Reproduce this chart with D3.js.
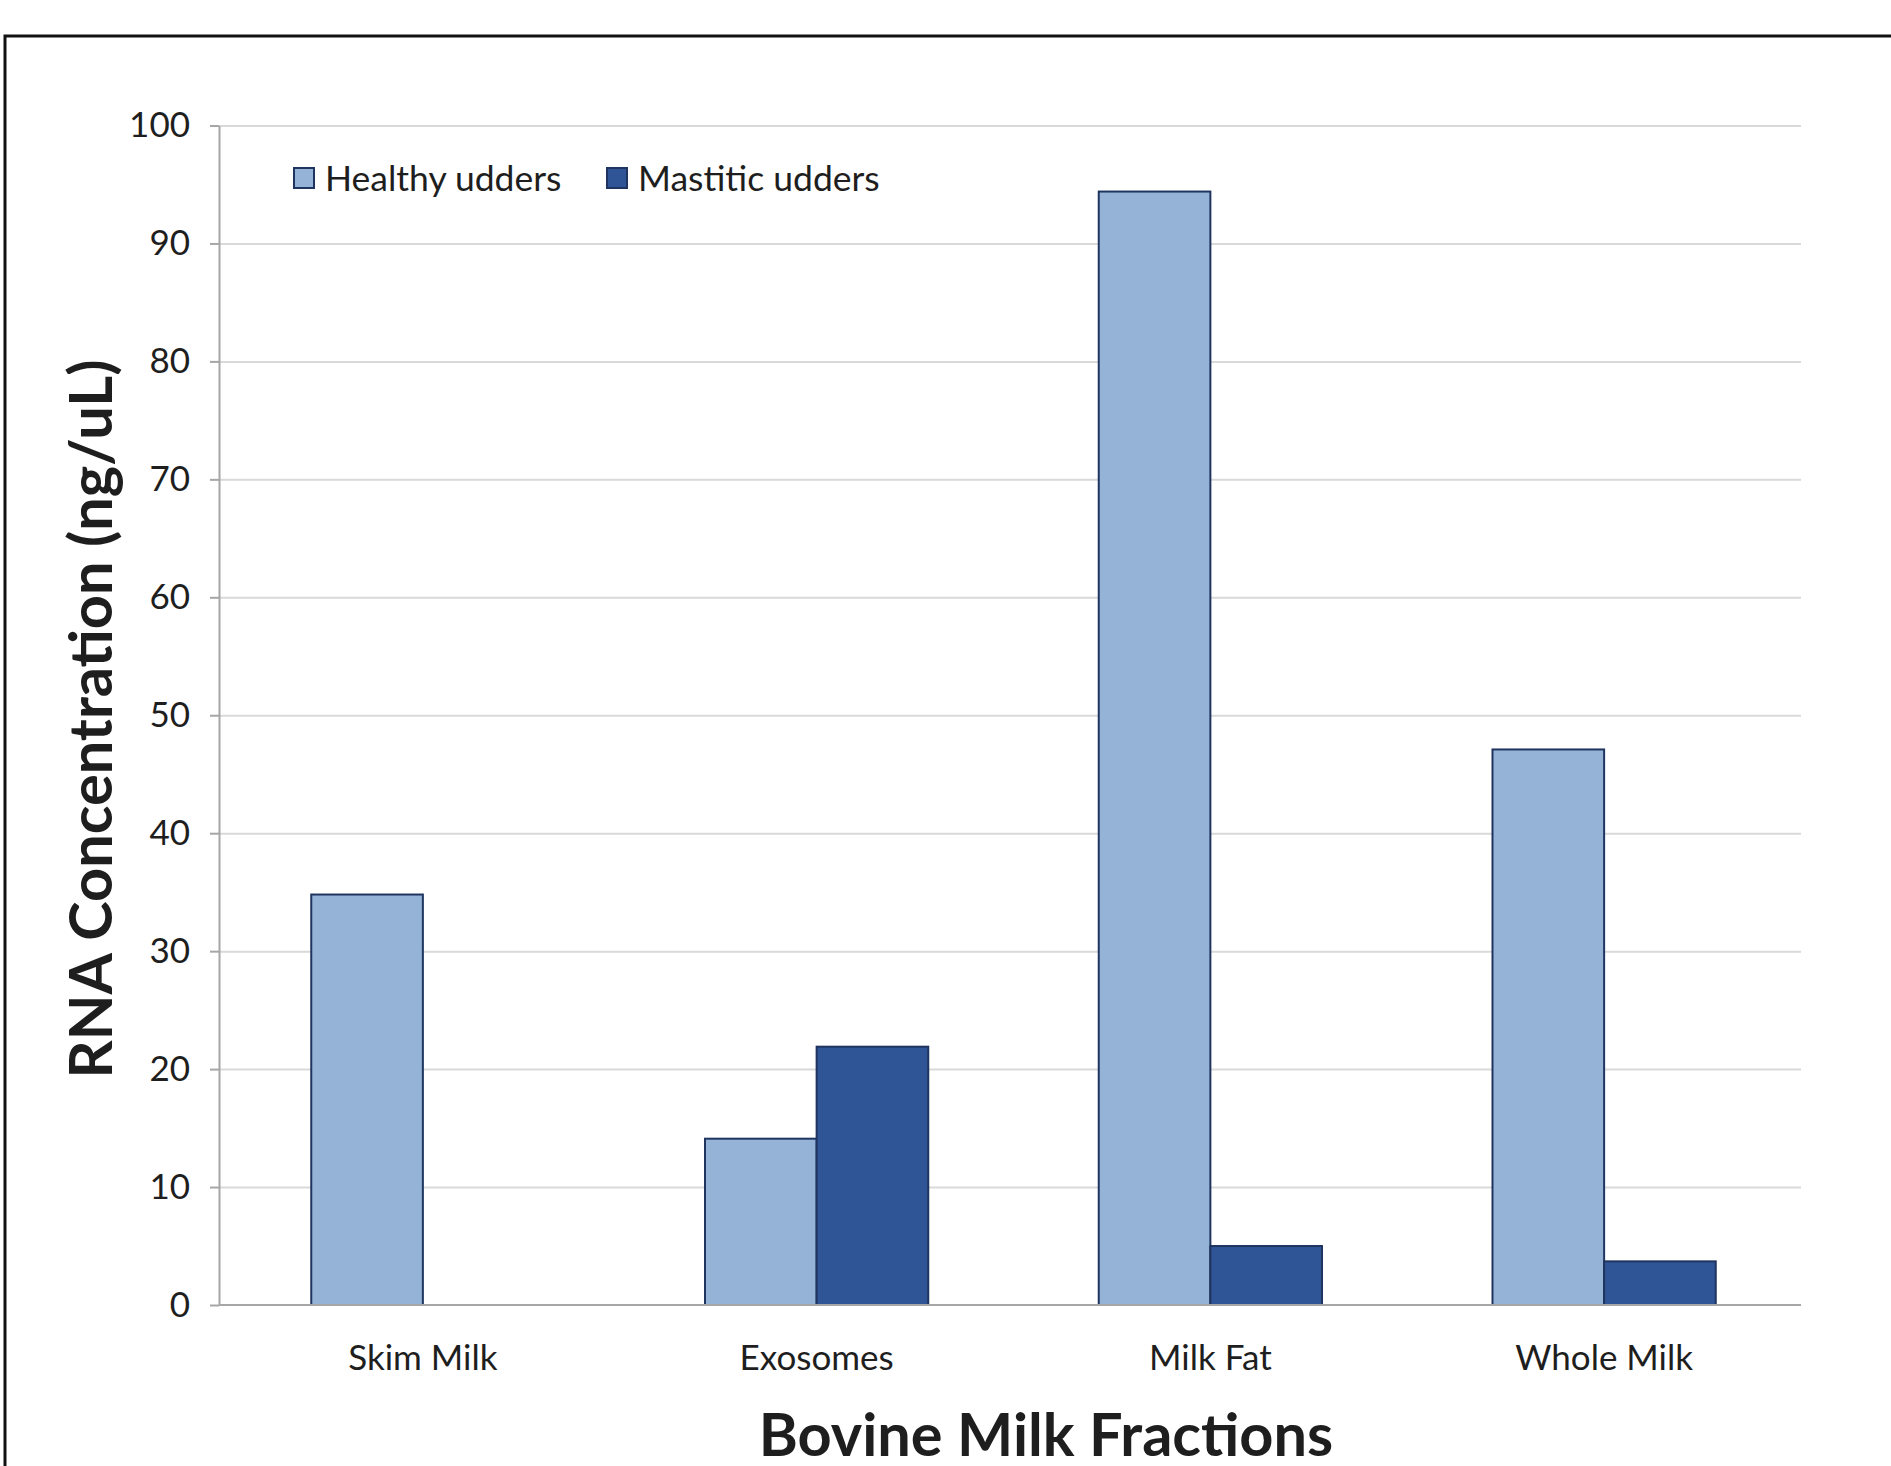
<!DOCTYPE html>
<html>
<head>
<meta charset="utf-8">
<script src="https://cdn.jsdelivr.net/npm/d3@7"></script>
<style>
  html, body { margin: 0; padding: 0; background: #fff; }
  svg { display: block; }
  text { font-family: Lato, "Open Sans", sans-serif; fill: #1e1e1e; }
</style>
</head>
<body>
<svg id="chart" width="1891" height="1466"></svg>
<script>
// RNA concentration by milk fraction, healthy vs mastitic udders
const categories = ["Skim Milk", "Exosomes", "Milk Fat", "Whole Milk"];
const seriesNames = ["Healthy udders", "Mastitic udders"];
const healthy = [34.8, 14.1, 94.4, 47.1];
const mastitic = [0, 21.9, 5.0, 3.7];
const yTicks = [0, 10, 20, 30, 40, 50, 60, 70, 80, 90, 100];
const xTitle = "Bovine Milk Fractions";
const yTitle = "RNA Concentration (ng/uL)";

const seriesValues = [healthy, mastitic];
const colors = ["#95b3d7", "#2f5597"];
const strokeColor = "#1f3560";

const svg = d3.select("#chart");
const W = 1891, H = 1466;
const plot = { left: 219, right: 1801, top: 125.5, bottom: 1305 };
const bandLeft = 226;

// outer frame, running off the right and bottom edges
svg.append("rect")
  .attr("x", 5).attr("y", 36)
  .attr("width", W + 20).attr("height", H + 20)
  .attr("fill", "none").attr("stroke", "#111").attr("stroke-width", 3);

const y = d3.scaleLinear().domain([0, 100]).range([plot.bottom, plot.top]);

const gap = 0.433;
const x = d3.scaleBand().domain(categories)
  .range([bandLeft, plot.right])
  .paddingInner(gap).paddingOuter(gap / 2);
const xs = d3.scaleBand().domain(seriesNames).range([0, x.bandwidth()]).padding(0);

// horizontal gridlines
svg.append("g")
  .attr("transform", `translate(${plot.left},0)`)
  .call(d3.axisLeft(y).tickValues(yTicks.filter(d => d > 0)).tickSize(-(plot.right - plot.left)).tickFormat(""))
  .call(g => g.select(".domain").remove())
  .call(g => g.selectAll("line").attr("stroke", "#d9d9d9").attr("stroke-width", 2));

// y axis with outward ticks
svg.append("g")
  .attr("transform", `translate(${plot.left},0)`)
  .call(d3.axisLeft(y).tickValues(yTicks).tickSize(9).tickPadding(20).tickSizeOuter(0))
  .call(g => g.select(".domain").attr("stroke", "#a6a6a6").attr("stroke-width", 2))
  .call(g => g.selectAll("line").attr("stroke", "#a6a6a6").attr("stroke-width", 2))
  .call(g => g.selectAll("text")
    .style("font-family", "Lato, sans-serif").style("font-size", "35px").attr("fill", "#1e1e1e"));

// bars
const groups = svg.append("g").selectAll("g")
  .data(categories)
  .join("g")
  .attr("transform", d => `translate(${x(d)},0)`);

groups.selectAll("rect")
  .data((d, i) => seriesNames.map((s, k) => ({ s, k, v: seriesValues[k][i] })))
  .join("rect")
  .filter(d => d.v > 0)
  .attr("x", d => xs(d.s))
  .attr("width", xs.bandwidth())
  .attr("y", d => y(d.v))
  .attr("height", d => y(0) - y(d.v))
  .attr("fill", d => colors[d.k])
  .attr("stroke", strokeColor)
  .attr("stroke-width", 2);

// x axis baseline and category labels
svg.append("g")
  .attr("transform", `translate(0,${plot.bottom})`)
  .call(d3.axisBottom(x).tickSize(0).tickPadding(40).tickSizeOuter(0))
  .call(g => g.select(".domain").attr("stroke", "#a6a6a6").attr("stroke-width", 2)
    .attr("d", `M${plot.left},0H${plot.right}`))
  .call(g => g.selectAll("text")
    .style("font-family", "Lato, sans-serif").style("font-size", "35px").attr("fill", "#1e1e1e"));

// legend
const legendX = [294, 607];
const legend = svg.append("g").selectAll("g")
  .data(seriesNames)
  .join("g")
  .attr("transform", (d, i) => `translate(${legendX[i]},168)`);
legend.append("rect")
  .attr("width", 20).attr("height", 20)
  .attr("fill", (d, i) => colors[i])
  .attr("stroke", strokeColor).attr("stroke-width", 2);
legend.append("text")
  .attr("x", 31).attr("y", 10).attr("dy", "0.36em")
  .style("font-size", "35.5px")
  .text(d => d);

// axis titles
svg.append("text")
  .attr("x", 1046).attr("y", 1435).attr("dy", "0.36em")
  .attr("text-anchor", "middle")
  .style("font-size", "59.5px").style("font-weight", "bold").attr("fill", "#000")
  .text(xTitle);

svg.append("text")
  .attr("transform", "translate(91,719) rotate(-90)")
  .attr("dy", "0.36em")
  .attr("text-anchor", "middle")
  .style("font-size", "59.5px").style("font-weight", "bold").attr("fill", "#000")
  .text(yTitle);
</script>
</body>
</html>
